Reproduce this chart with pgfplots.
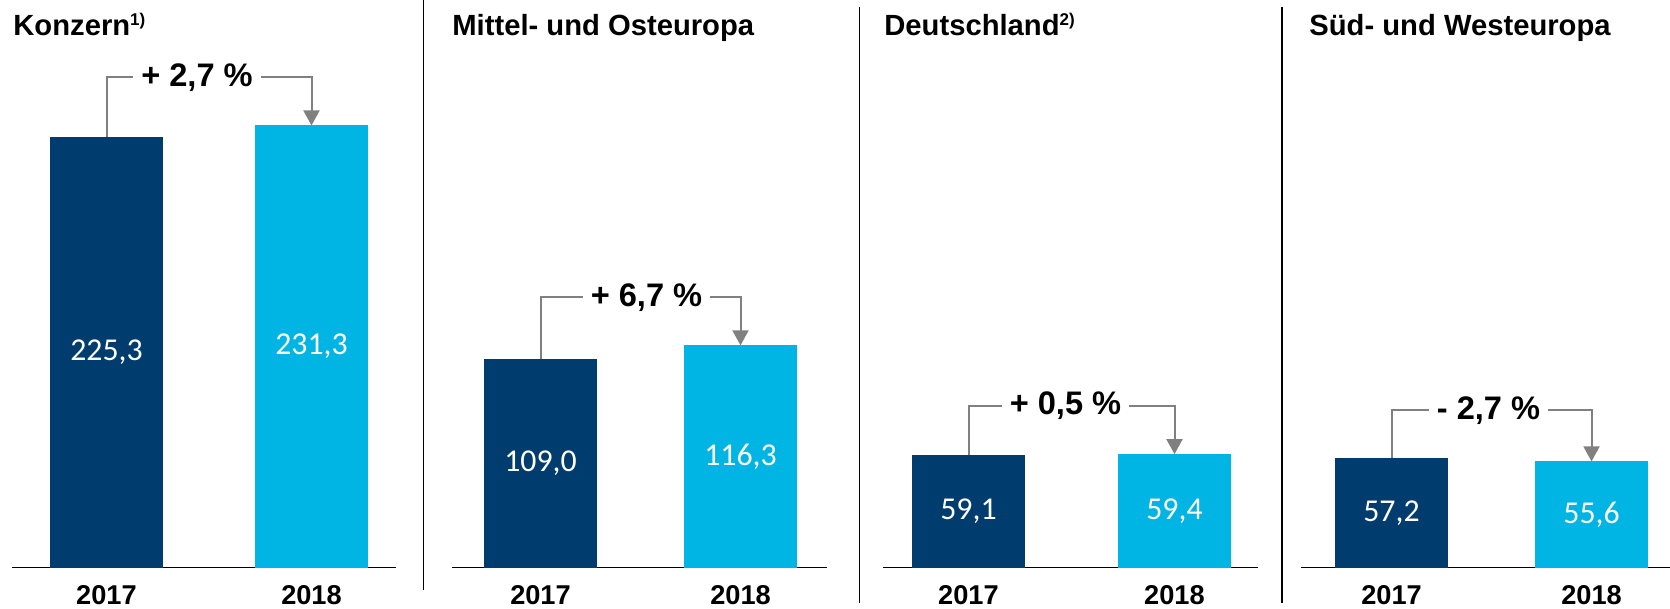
\documentclass[border=0pt]{standalone}
\usepackage{fontspec}
\setmainfont{Liberation Sans}
\newfontfamily\calib{Carlito}
\usepackage{pgfplots}
\pgfplotsset{compat=1.18}
\usetikzlibrary{arrows.meta}
\definecolor{barDark}{HTML}{003D6E}
\definecolor{barLight}{HTML}{00B5E3}
\definecolor{arrGrey}{HTML}{808080}

% 1 px of the reference = 0.5pt; 1 value unit = 0.956pt
\pgfplotsset{
  panel/.style={
    ybar, bar width=56.5pt, bar shift=0pt,
    y=0.956pt, ymin=0, ymax=260, enlargelimits=false,
    axis x line=bottom, axis y line=none,
    axis line style={-, line width=0.8pt, black},
    xtick={0,1}, xticklabels={\textbf{2017},\textbf{2018}},
    major tick length=0pt,
    xticklabel style={font=\fontsize{13.6}{16}\selectfont, yshift=-5.6pt},
    anchor=south west, clip=false,
  },
  dark/.style={fill=barDark, draw=none},
  light/.style={fill=barLight, draw=none},
}
\newcommand\vallabel[2]{\node[text=white, font=\calib\fontsize{15.9}{18}\selectfont] at (axis cs:#1) {#2};}
\newcommand\bracket[5]{% v0, v1, top, text, xshift
  \draw[arrGrey, line width=1pt, -{Triangle[width=8pt,length=7.5pt]}]
    (axis cs:0,#1) |- (axis cs:1,#3) -- (axis cs:1,#2);
  \node[fill=white, inner xsep=4pt, inner ysep=1pt, xshift=#5,
    font=\bfseries\fontsize{16.3}{19}\selectfont] at (axis cs:0.5,#3) {#4};}
\newcommand\note[1]{{\fontsize{8.5}{10}\selectfont\raisebox{5pt}{#1}}}

\begin{document}
\begin{tikzpicture}
\path[use as bounding box] (0,0) rectangle (835pt,304.5pt);

% dividers
\draw[line width=0.8pt] (211.75pt,304.5pt) -- (211.75pt,9.5pt);
\draw[line width=0.8pt] (429.75pt,301pt) -- (429.75pt,3pt);
\draw[line width=0.8pt] (641pt,301pt) -- (641pt,3pt);

% titles
\begin{scope}[every node/.style={anchor=base west, inner sep=0pt, font=\bfseries\fontsize{14.6}{17}\selectfont}]
\node at (6.5pt,286.8pt) {Konzern\note{1)}};
\node at (226pt,286.8pt) {Mittel- und Osteuropa};
\node at (442pt,286.8pt) {Deutschland\note{2)}};
\node at (654.5pt,286.8pt) {Süd- und Westeuropa};
\end{scope}

% Konzern
\begin{axis}[panel, x=102.5pt, xmin=-0.461, xmax=1.412, at={(6pt,20.65pt)}]
\addplot[dark] coordinates {(0,225.3)};
\addplot[light] coordinates {(1,231.3)};
\vallabel{0,112.65}{225,3}
\vallabel{1,115.65}{231,3}
\bracket{225.3}{231.3}{256.4}{+ 2,7 \%}{-6pt}
\end{axis}

% Mittel- und Osteuropa
\begin{axis}[panel, x=100pt, xmin=-0.4425, xmax=1.4325, at={(226pt,20.65pt)}]
\addplot[dark] coordinates {(0,109.0)};
\addplot[light] coordinates {(1,116.3)};
\vallabel{0,54.5}{109,0}
\vallabel{1,58.15}{116,3}
\bracket{109.0}{116.3}{141.4}{+ 6,7 \%}{3pt}
\end{axis}

% Deutschland
\begin{axis}[panel, x=103pt, xmin=-0.415, xmax=1.405, at={(441.5pt,20.65pt)}]
\addplot[dark] coordinates {(0,59.1)};
\addplot[light] coordinates {(1,59.4)};
\vallabel{0,29.55}{59,1}
\vallabel{1,29.7}{59,4}
\bracket{59.1}{59.4}{84.5}{+ 0,5 \%}{-3pt}
\end{axis}

% Sued- und Westeuropa
\begin{axis}[panel, x=100pt, xmin=-0.4525, xmax=1.3925, at={(650.5pt,20.65pt)}]
\addplot[dark] coordinates {(0,57.2)};
\addplot[light] coordinates {(1,55.6)};
\vallabel{0,28.6}{57,2}
\vallabel{1,27.8}{55,6}
\bracket{57.2}{55.6}{82.3}{- 2,7 \%}{-1.5pt}
\end{axis}
\end{tikzpicture}
\end{document}
